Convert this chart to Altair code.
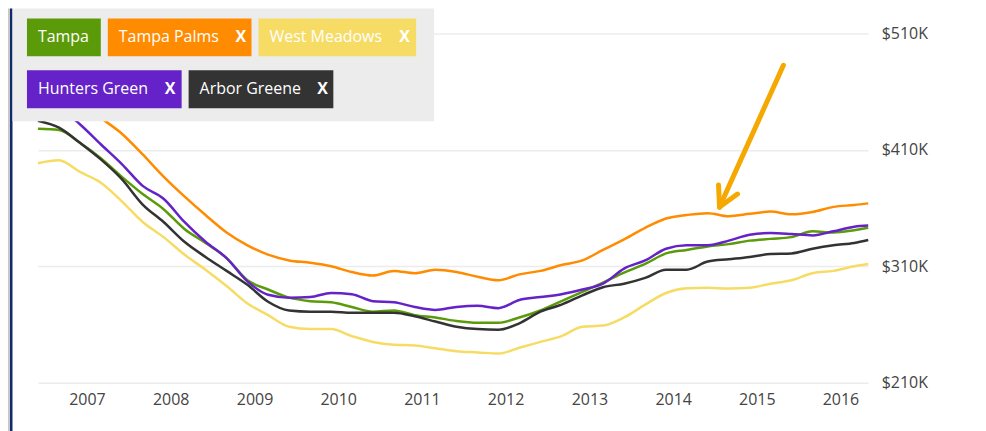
import altair as alt
import pandas as pd

# ---------------- data ----------------
dates = [d.strftime("%Y-%m-%d") for d in pd.date_range("2006-06-01", "2016-03-01", freq="3MS")] + ["2016-05-01"]

series_names = ["Tampa", "Tampa Palms", "West Meadows", "Hunters Green", "Arbor Greene"]
series_colors = ["#5b9b09", "#ff8c00", "#f6dc64", "#6422c8", "#333333"]

tampa = [428, 427, 416, 403, 387, 372, 359, 342, 330, 317,
         298, 290, 283, 280, 279, 275, 271, 272, 268, 266,
         263, 261.5, 261.5, 266, 272, 280, 288, 296, 304.5, 312,
         321, 324, 327, 329, 332, 333.5, 335, 340, 339, 341, 343]
tampa_palms = [472, 468, 455, 438, 424, 406, 387, 370, 354, 339,
               328, 320, 315, 313, 310, 305, 302, 306, 304, 307,
               305, 301, 298, 303, 306, 311, 315, 324, 333, 343,
               351, 354, 355.6, 353, 355, 357, 354.6, 356.6, 361, 362.6, 364]
west_meadows = [398.5, 401, 391, 382, 366, 348, 335, 320, 307, 293,
                278, 268, 258, 256, 256, 250, 245, 242.6, 242, 239.5,
                237, 236, 235, 240, 245, 250, 258, 259, 266, 277,
                287, 291, 291.5, 290.8, 291.5, 295, 298, 304, 306, 310, 312]
hunters_green = [452, 446, 432, 415, 398, 379, 368, 348, 331, 317,
                 297, 285.5, 283, 283.5, 287, 286, 280, 279, 275, 272.5,
                 275, 276, 274, 281, 283.5, 286, 290, 295, 308, 315,
                 325, 328, 328, 332, 337, 338.5, 337.7, 336.5, 340, 344, 345]
arbor_greene = [435, 429, 416, 402, 385, 363, 348, 331, 318, 306,
                294, 279.5, 272, 271, 271, 270, 270, 270, 267, 262.5,
                258, 256, 255.5, 261, 271, 277, 285, 292, 295, 300,
                307, 307, 314, 316, 318, 320.5, 321, 325, 328, 330, 332.6]

y_ticks = [210, 310, 410, 510]
x_years = list(range(2007, 2017))

all_values = [tampa, tampa_palms, west_meadows, hunters_green, arbor_greene]
rows = []
for name, vals in zip(series_names, all_values):
    for d, v in zip(dates, vals):
        rows.append({"date": d, "value": v, "series": name})
df = pd.DataFrame(rows)

FONT = "Open Sans"

# ---------------- lines ----------------
lines = alt.Chart(df).mark_line(strokeWidth=2.5, interpolate="monotone").encode(
    x=alt.X("date:T",
            scale=alt.Scale(domain=["2006-06-01", "2016-05-01"]),
            axis=alt.Axis(values=[alt.DateTime(year=y, month=1, date=1) for y in x_years],
                          format="%Y", domain=False, ticks=False, grid=False,
                          labelPadding=9, labelFontSize=16, labelColor="#444444",
                          labelFont=FONT, labelFlush=False, title=None)),
    y=alt.Y("value:Q",
            scale=alt.Scale(domain=[210, 510], nice=False, zero=False),
            axis=alt.Axis(orient="right", values=y_ticks,
                          labelExpr="'$' + datum.value + 'K'",
                          domain=False, ticks=False, grid=True, gridColor="#ececec",
                          gridWidth=1.5, labelPadding=13, labelFontSize=16,
                          labelColor="#444444", labelFont=FONT, title=None)),
    color=alt.Color("series:N", scale=alt.Scale(domain=series_names, range=series_colors), legend=None),
    detail="series:N",
)

# ---------------- decorations (pixel layout) ----------------
one = alt.Data(values=[{}])

def box(x1, x2, y1, y2, color):
    return alt.Chart(one).mark_rect(color=color).encode(
        x=alt.value(x1), x2=alt.value(x2), y=alt.value(y1), y2=alt.value(y2))

def label(x, y, text, bold=False):
    return alt.Chart(one).mark_text(align="left", baseline="middle", color="white",
                                    fontSize=16, font=FONT,
                                    fontWeight="bold" if bold else "normal",
                                    text=text).encode(x=alt.value(x), y=alt.value(y))

def seg(x1, y1, x2, y2):
    return alt.Chart(one).mark_rule(color="#f5a800", strokeWidth=5, strokeCap="round").encode(
        x=alt.value(x1), y=alt.value(y1), x2=alt.value(x2), y2=alt.value(y2))

layers = [lines]

# screenshot frame
layers.append(box(-30, -28, -25, 400, "#c8c8c8"))
layers.append(box(-28, -25.5, -25, 400, "#13296b"))

# legend panel
legend_box_x = [(-11, 63), (70, 214), (221, 379), (-11, 144), (151, 296)]
legend_box_y = [(-15, 23), (-15, 23), (-15, 23), (37, 75), (37, 75)]
legend_text_x = [0, 81, 232, 0, 162]
legend_x_mark = [None, 198, 362, 127, 280]

layers.append(box(-25.5, 397, -25, 88, "#ececec"))
for i, name in enumerate(series_names):
    (bx1, bx2), (by1, by2) = legend_box_x[i], legend_box_y[i]
    layers.append(box(bx1, bx2, by1, by2, series_colors[i]))
    cy = (by1 + by2) / 2
    layers.append(label(legend_text_x[i], cy, name))
    if legend_x_mark[i] is not None:
        layers.append(label(legend_x_mark[i], cy, "X", bold=True))

# arrow annotation
layers.append(seg(747, 32, 683, 174))
layers.append(seg(683, 174, 682, 152))
layers.append(seg(683, 174, 701, 161))

chart = alt.layer(*layers).properties(
    width=832, height=350,
    autosize=alt.AutoSizeParams(type="none"),
    padding={"left": 30, "top": 25, "right": 110, "bottom": 48},
    background="white",
).configure_view(stroke=None)

chart.save("out.html", embed_options={"renderer": "svg", "actions": False})
